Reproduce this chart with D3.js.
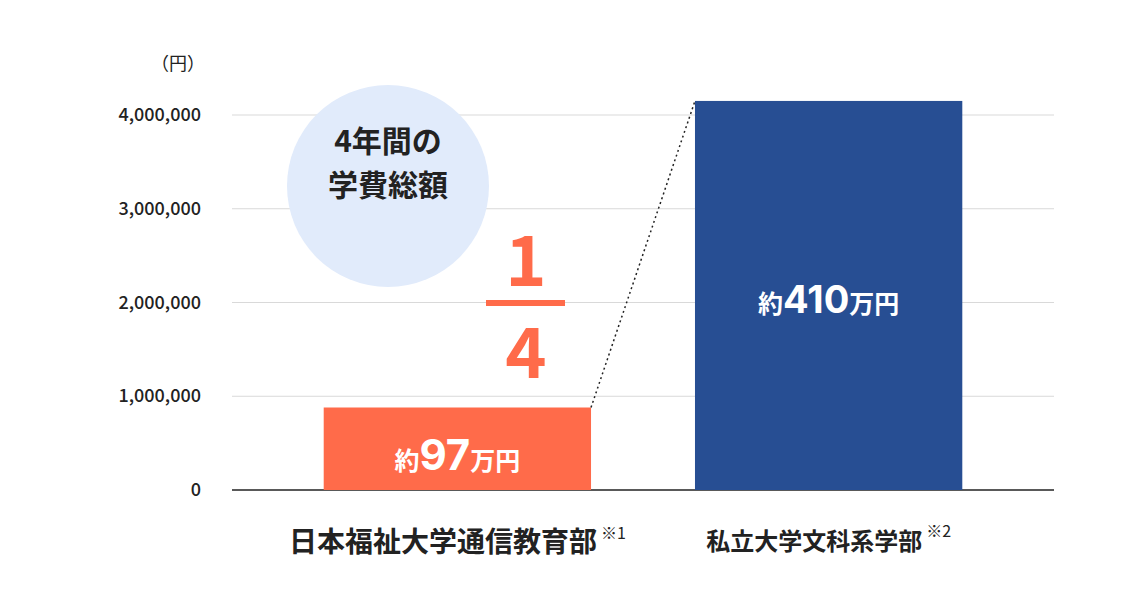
<!DOCTYPE html><html><head><meta charset="utf-8">
<script src="https://cdn.jsdelivr.net/npm/d3@7"></script>
<style>body{margin:0;background:#fff}text{font-family:"Noto Sans CJK JP","Noto Sans",sans-serif}</style>
</head><body><svg id="c" width="1134" height="602"></svg><script>
const categories=["日本福祉大学通信教育部","私立大学文科系学部"];
const notes=["※1","※2"];
const values=[880000,4150000];
const labelsNum=["97","410"];
const ticks=[0,1000000,2000000,3000000,4000000];
const colors=["#ff6b4a","#274e93"];
const svg=d3.select("#c");
const x=d3.scaleBand().domain(categories).range([232,1054]).paddingInner(0.28).paddingOuter(0.247);
const y=d3.scaleLinear().domain([0,4000000]).range([490,115]);
const g=svg.append("g");
ticks.forEach(t=>{
 g.append("line").attr("x1",232).attr("x2",1054).attr("y1",y(t)).attr("y2",y(t))
  .attr("stroke",t?"#d9d9d9":"#222").attr("stroke-width",t?1:1.5);
 g.append("text").attr("x",201).attr("y",y(t)+6).attr("text-anchor","end").attr("font-family","Inter,sans-serif")
  .attr("font-size",18).attr("font-weight",500).attr("fill","#222").text(d3.format(",")(t));
});
svg.append("text").attr("x",178).attr("y",70).attr("text-anchor","middle").attr("font-size",18).attr("fill","#222").text("（円）");
svg.append("circle").attr("cx",388).attr("cy",186).attr("r",101).attr("fill","#e1ebfb");
["4年間の","学費総額"].forEach((s,i)=>svg.append("text").attr("x",388).attr("y",152+i*44).attr("text-anchor","middle").attr("font-size",30).attr("font-weight",700).attr("fill","#222").text(s));
categories.forEach((c,i)=>{
 const bx=x(c),bw=x.bandwidth();
 svg.append("rect").attr("x",bx).attr("y",y(values[i])).attr("width",bw).attr("height",y(0)-y(values[i])).attr("fill",colors[i]);
 const cy=i?313:470;
 const t=svg.append("text").attr("x",bx+bw/2).attr("y",cy).attr("text-anchor","middle").attr("fill","#fff").attr("font-weight",700);
 t.append("tspan").attr("font-size",25).text("約");
 t.append("tspan").attr("font-size",i?38:42).attr("font-family","Inter,sans-serif").text(labelsNum[i]);
 t.append("tspan").attr("font-size",25).text("万円");
 const l=svg.append("text").attr("x",bx+bw/2).attr("y",i?550:552).attr("text-anchor","middle").attr("fill","#222").attr("font-weight",700);
 l.append("tspan").attr("font-size",i?24:28).text(c);
 l.append("tspan").attr("font-size",16).attr("dy",-13).attr("dx",4).attr("font-weight",400).text(notes[i]);
});
const b1=categories[0],b2=categories[1];
svg.append("line").attr("x1",x(b1)+x.bandwidth()).attr("y1",y(values[0])).attr("x2",x(b2)).attr("y2",y(values[1]))
 .attr("stroke","#222").attr("stroke-width",1.5).attr("stroke-dasharray","2,3");
svg.append("text").attr("x",526).attr("y",286).attr("text-anchor","middle").attr("font-size",70).attr("font-weight",700).attr("fill","#ff6b4a").attr("font-family","Inter,sans-serif").text("1");
svg.append("rect").attr("x",486).attr("y",300).attr("width",79).attr("height",6).attr("fill","#ff6b4a");
svg.append("text").attr("x",526).attr("y",378).attr("text-anchor","middle").attr("font-size",70).attr("font-weight",700).attr("fill","#ff6b4a").attr("font-family","Inter,sans-serif").text("4");
</script></body></html>
